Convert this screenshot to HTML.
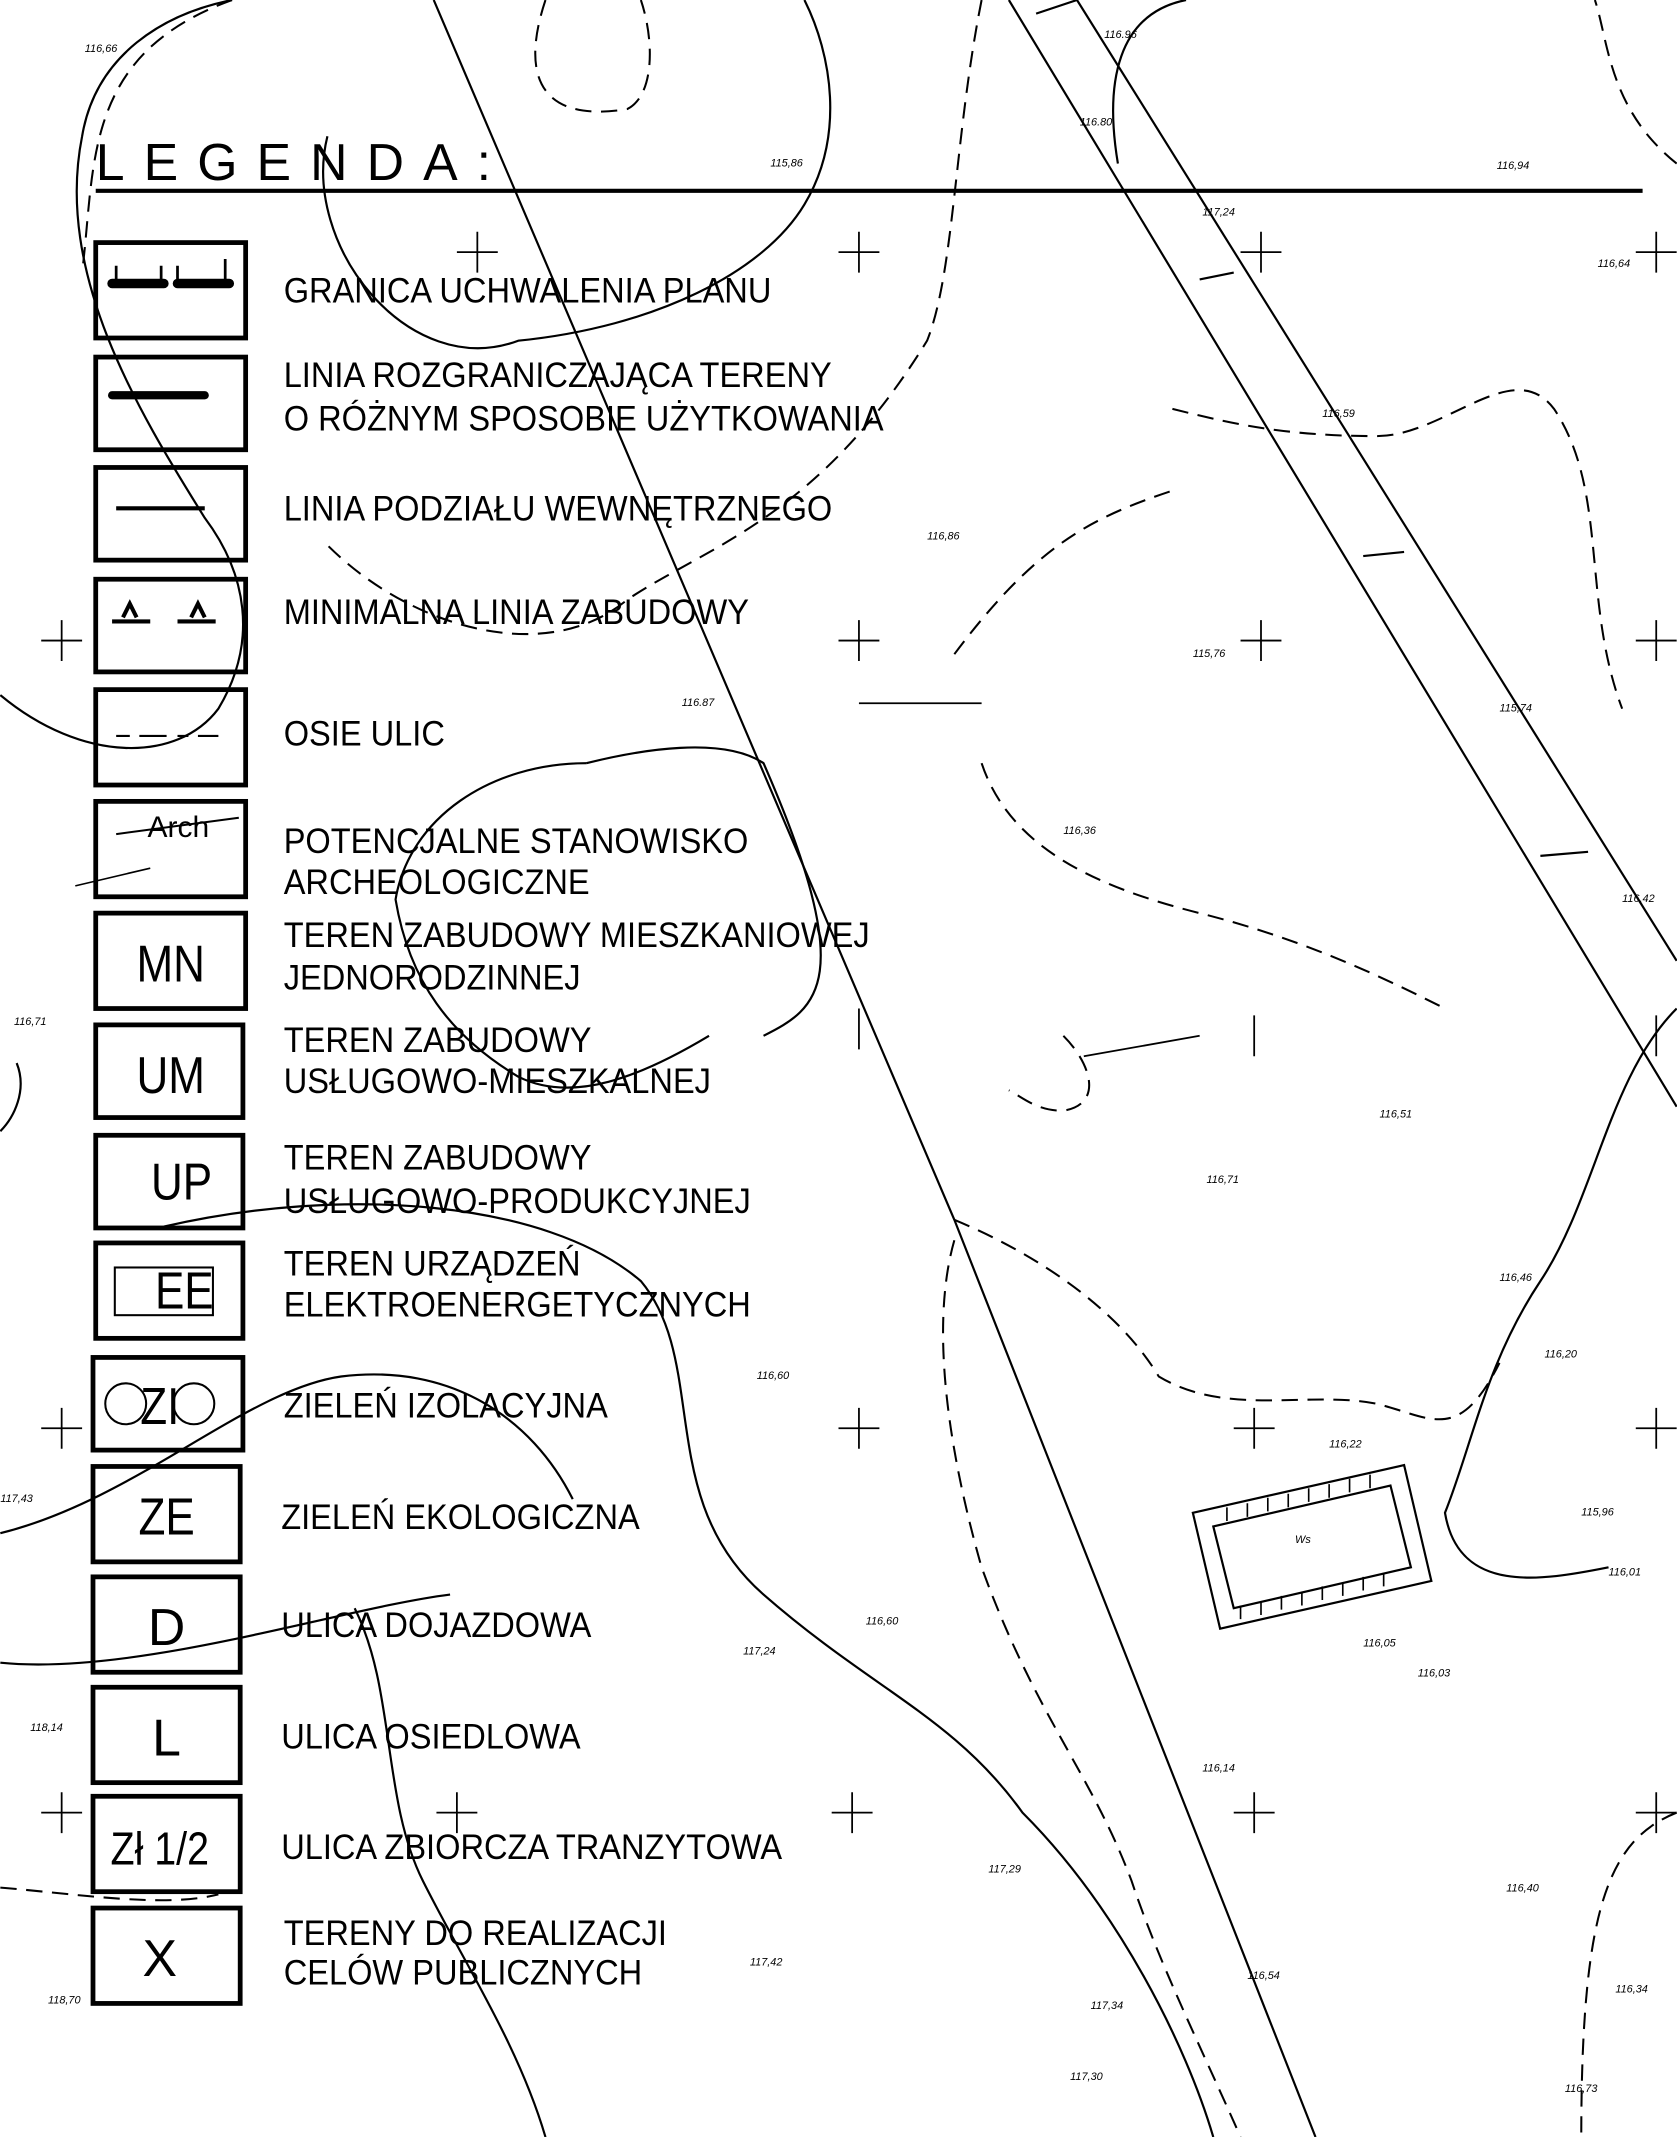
<!DOCTYPE html>
<html><head><meta charset="utf-8"><style>
html,body{margin:0;padding:0;background:#fff;}
svg{display:block}
text{font-family:"Liberation Sans",sans-serif;fill:#000}
.l{font-size:26px;}
.s{font-size:8px;font-style:italic}
.b{font-size:38px}
</style></head><body>
<svg width="1677" height="2137" viewBox="0 0 1230 1568" xmlns="http://www.w3.org/2000/svg">
<rect width="1230" height="1568" fill="#fff"/>
<g fill="none" stroke="#000" stroke-width="1.6">
<path d="M740 0 L1230 812"/>
<path d="M790 0 L1230 705"/>
<path d="M760 10 L790 0 M880 205 L905 200 M1000 408 L1030 405 M1130 628 L1165 625"/>
<path d="M318 0 L700 895 L965 1568"/>
<path d="M70 140 L1205 140" stroke-width="3"/>
<path d="M240 100 C220 180 300 280 380 250 C480 240 560 200 590 150 C620 100 610 40 590 0"/>
<path d="M0 510 C60 560 130 560 160 520 C190 470 180 420 150 380 C100 300 40 200 60 100 C70 40 120 10 170 0"/>
<path d="M430 560 C360 560 300 600 290 660 C300 720 330 760 380 790 C420 810 470 790 520 760"/>
<path d="M560 760 C600 740 630 720 560 560 C530 540 470 550 430 560"/>
<path d="M0 1220 C100 1230 250 1180 330 1170"/>
<path d="M120 900 C250 870 400 880 470 940 C520 1000 480 1100 560 1170 C640 1240 700 1260 750 1330 C820 1400 870 1500 890 1568"/>
<path d="M0 1125 C100 1100 180 1020 250 1010 C330 1000 390 1040 420 1100"/>
<path d="M260 1180 C290 1240 280 1320 310 1380 C340 1440 380 1500 400 1568"/>
<path d="M1230 740 C1180 790 1170 880 1130 940 C1090 1000 1080 1060 1060 1110 C1070 1170 1130 1160 1180 1150"/>
<path d="M870 0 C820 10 810 60 820 120"/>
<path d="M12 780 C20 800 10 820 0 830"/>
</g>
<g fill="none" stroke="#000" stroke-width="1.5" stroke-dasharray="12 7">
<path d="M170 0 C60 40 70 120 60 200"/>
<path d="M400 0 C380 60 400 90 460 80 C480 70 480 30 470 0"/>
<path d="M720 0 C700 100 700 200 680 250 C600 380 520 400 460 440 C400 490 300 460 240 400"/>
<path d="M860 300 C900 310 940 320 1010 320 C1060 320 1110 260 1140 300 C1180 360 1160 440 1190 520"/>
<path d="M700 480 C760 400 800 380 860 360"/>
<path d="M720 560 C740 620 800 650 880 670 C960 690 1020 720 1060 740"/>
<path d="M1230 120 C1180 80 1180 30 1170 0"/>
<path d="M780 760 C800 780 810 810 780 815 C760 815 750 805 740 800"/>
<path d="M700 910 C680 980 700 1080 720 1150 C760 1260 800 1300 830 1380 C850 1440 880 1500 910 1568"/>
<path d="M700 895 C760 920 820 960 850 1010 C900 1040 960 1020 1010 1030 C1050 1040 1070 1060 1100 1000"/>
<path d="M1230 1330 C1180 1350 1160 1400 1160 1568"/>
<path d="M0 1385 C60 1390 120 1400 160 1390"/>
</g>
<g stroke="#000" stroke-width="1.3">
<path d="M335 185 h30 M350 170 v30 M615 185 h30 M630 170 v30 M910 185 h30 M925 170 v30 M1200 185 h30 M1215 170 v30"/>
<path d="M30 470 h30 M45 455 v30 M615 470 h30 M630 455 v30 M910 470 h30 M925 455 v30 M1200 470 h30 M1215 455 v30"/>
<path d="M30 1048 h30 M45 1033 v30 M615 1048 h30 M630 1033 v30 M905 1048 h30 M920 1033 v30 M1200 1048 h30 M1215 1033 v30"/>
<path d="M30 1330 h30 M45 1315 v30 M320 1330 h30 M335 1315 v30 M610 1330 h30 M625 1315 v30 M905 1330 h30 M920 1315 v30 M1200 1330 h30 M1215 1315 v30"/>
<path d="M630 516 h90 M795 775 L880 760 M630 740 v30 M920 745 v30 M1215 745 v30"/>
</g>
<g fill="none" stroke="#000" stroke-width="1.6">
<path d="M875 1110 L1030 1075 L1050 1160 L895 1195 Z"/>
<path d="M890 1120 L1020 1090 L1035 1150 L905 1180 Z"/>
<path d="M900 1106 v10 M915 1103 v10 M930 1099 v10 M945 1096 v10 M960 1092 v10 M975 1089 v10 M990 1085 v10 M1005 1082 v10 M910 1178 v10 M925 1175 v10 M940 1171 v10 M955 1168 v10 M970 1164 v10 M985 1161 v10 M1000 1157 v10 M1015 1154 v10" stroke-width="1.2"/>
</g>
<text x="950" y="1132" class="s">Ws</text>
<text x="70" y="132" class="b" letter-spacing="14">LEGENDA:</text>
<g fill="none" stroke="#000" stroke-width="3.5">
<rect x="70" y="178" width="110" height="70"/>
<rect x="70" y="262" width="110" height="68"/>
<rect x="70" y="343" width="110" height="68"/>
<rect x="70" y="425" width="110" height="68"/>
<rect x="70" y="506" width="110" height="70"/>
<rect x="70" y="588" width="110" height="70"/>
<rect x="70" y="670" width="110" height="70"/>
<rect x="70" y="752" width="108" height="68"/>
<rect x="70" y="833" width="108" height="68"/>
<rect x="70" y="912" width="108" height="70"/>
<rect x="68" y="996" width="110" height="68"/>
<rect x="68" y="1076" width="108" height="70"/>
<rect x="68" y="1157" width="108" height="70"/>
<rect x="68" y="1238" width="108" height="70"/>
<rect x="68" y="1318" width="108" height="70"/>
<rect x="68" y="1400" width="108" height="70"/>
</g>
<g stroke="#000" fill="none">
<path d="M82 208 h38 M130 208 h38" stroke-width="7" stroke-linecap="round"/>
<path d="M85 195 v12 M118 195 v12 M130 195 v12 M165 190 v17" stroke-width="2"/>
<path d="M82 290 h68" stroke-width="6" stroke-linecap="round"/>
<path d="M85 373 h65" stroke-width="3"/>
<path d="M82 456 h28 M130 456 h28" stroke-width="3"/>
<path d="M90 453 l5 -10 l5 10 M140 453 l5 -10 l5 10" stroke-width="3"/>
<path d="M85 540 h10 M102 540 h20 M130 540 h8 M145 540 h15" stroke-width="1.5"/>
<path d="M85 612 L175 600" stroke-width="1.5"/>
<path d="M55 650 L110 637" stroke-width="1.2"/>
<rect x="84" y="930" width="72" height="35" stroke-width="1.5"/>
<circle cx="92" cy="1030" r="15" stroke-width="1.5"/>
<circle cx="142" cy="1030" r="15" stroke-width="1.5"/>
</g>
<text x="108" y="614" font-size="22">Arch</text>
<g font-size="38" text-anchor="middle">
<text x="125" y="720" transform="translate(125 0) scale(0.85 1) translate(-125 0)">MN</text>
<text x="125" y="802" transform="translate(125 0) scale(0.85 1) translate(-125 0)">UM</text>
<text x="133" y="880" transform="translate(133 0) scale(0.85 1) translate(-133 0)">UP</text>
<text x="135" y="960" transform="translate(135 0) scale(0.85 1) translate(-135 0)">EE</text>
<text x="117" y="1045" transform="translate(117 0) scale(0.85 1) translate(-117 0)">ZI</text>
<text x="122" y="1126" transform="translate(122 0) scale(0.85 1) translate(-122 0)">ZE</text>
<text x="122" y="1207">D</text>
<text x="122" y="1288">L</text>
<text x="117" y="1368" font-size="34" transform="translate(117 0) scale(0.85 1) translate(-117 0)">Zł 1/2</text>
<text x="117" y="1450">X</text>
</g>
<g class="l" transform="scale(0.92 1)">
<text x="226" y="222">GRANICA  UCHWALENIA  PLANU</text>
<text x="226" y="284">LINIA  ROZGRANICZAJĄCA  TERENY</text>
<text x="226" y="316">O RÓŻNYM  SPOSOBIE  UŻYTKOWANIA</text>
<text x="226" y="382">LINIA  PODZIAŁU  WEWNĘTRZNEGO</text>
<text x="226" y="458">MINIMALNA  LINIA  ZABUDOWY</text>
<text x="226" y="547">OSIE  ULIC</text>
<text x="226" y="626">POTENCJALNE  STANOWISKO</text>
<text x="226" y="656">ARCHEOLOGICZNE</text>
<text x="226" y="695">TEREN  ZABUDOWY  MIESZKANIOWEJ</text>
<text x="226" y="726">JEDNORODZINNEJ</text>
<text x="226" y="772">TEREN  ZABUDOWY</text>
<text x="226" y="802">USŁUGOWO-MIESZKALNEJ</text>
<text x="226" y="858">TEREN  ZABUDOWY</text>
<text x="226" y="890">USŁUGOWO-PRODUKCYJNEJ</text>
<text x="226" y="936">TEREN  URZĄDZEŃ</text>
<text x="226" y="966">ELEKTROENERGETYCZNYCH</text>
<text x="226" y="1040">ZIELEŃ  IZOLACYJNA</text>
<text x="224" y="1122">ZIELEŃ  EKOLOGICZNA</text>
<text x="224" y="1201">ULICA  DOJAZDOWA</text>
<text x="224" y="1283">ULICA  OSIEDLOWA</text>
<text x="224" y="1364">ULICA  ZBIORCZA  TRANZYTOWA</text>
<text x="226" y="1427">TERENY  DO REALIZACJI</text>
<text x="226" y="1456">CELÓW  PUBLICZNYCH</text>
</g>
<g class="s">
<text x="62" y="38">116,66</text><text x="810" y="28">116.96</text><text x="792" y="92">116.80</text>
<text x="565" y="122">115,86</text><text x="1098" y="124">116,94</text><text x="882" y="158">117,24</text>
<text x="1172" y="196">116,64</text><text x="970" y="306">116,59</text><text x="680" y="396">116,86</text>
<text x="500" y="518">116.87</text><text x="875" y="482">115,76</text><text x="1100" y="522">115,74</text>
<text x="780" y="612">116,36</text><text x="1190" y="662">116,42</text><text x="1012" y="820">116,51</text>
<text x="885" y="868">116,71</text><text x="1100" y="940">116,46</text><text x="1133" y="996">116,20</text>
<text x="555" y="1012">116,60</text><text x="975" y="1062">116,22</text><text x="1160" y="1112">115,96</text>
<text x="1180" y="1156">116,01</text><text x="1000" y="1208">116,05</text><text x="1040" y="1230">116,03</text>
<text x="635" y="1192">116,60</text><text x="545" y="1214">117,24</text><text x="882" y="1300">116,14</text>
<text x="1105" y="1388">116,40</text><text x="725" y="1374">117,29</text><text x="550" y="1442">117,42</text>
<text x="915" y="1452">116,54</text><text x="1185" y="1462">116,34</text><text x="800" y="1474">117,34</text>
<text x="785" y="1526">117,30</text><text x="1148" y="1535">116,73</text><text x="0" y="1102">117,43</text>
<text x="22" y="1270">118,14</text><text x="35" y="1470">118,70</text><text x="10" y="752">116,71</text>
</g>
</svg>
</body></html>
